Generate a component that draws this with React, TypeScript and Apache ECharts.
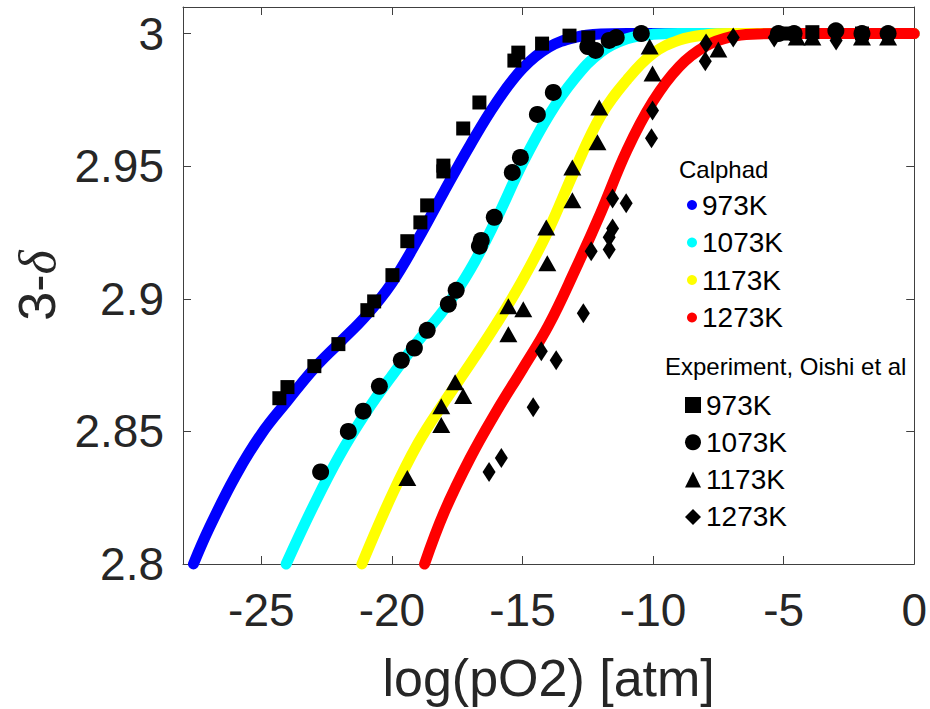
import React, { useEffect, useRef } from "react";
import * as echarts from "echarts";

// Calphad model curves, 3-δ versus log(pO2)
const calphad973: [number, number][] = [
  [-27.6, 2.8], [-27.0, 2.8135], [-26.0, 2.833], [-25.0, 2.849], [-24.0, 2.8615],
  [-23.0, 2.8735], [-22.0, 2.8835], [-21.0, 2.8935], [-20.0, 2.906], [-19.0, 2.9225],
  [-18.0, 2.9405], [-17.0, 2.958], [-16.0, 2.974], [-15.0, 2.9868], [-14.0, 2.9948],
  [-13.0, 2.9985], [-12.0, 2.9998], [-11.0, 3.0], [-6.0, 3.0], [0, 3.0],
];
const calphad1073: [number, number][] = [
  [-24.05, 2.8], [-23.0, 2.822], [-22.0, 2.841], [-21.0, 2.857], [-20.0, 2.871],
  [-19.0, 2.884], [-18.0, 2.896], [-17.0, 2.911], [-16.0, 2.93], [-15.0, 2.951],
  [-14.0, 2.969], [-13.0, 2.983], [-12.0, 2.993], [-11.0, 2.998], [-10.0, 2.9997],
  [-9.0, 3.0], [-5.0, 3.0], [0, 3.0],
];
const calphad1173: [number, number][] = [
  [-21.15, 2.8], [-20.0, 2.826], [-19.0, 2.8455], [-18.0, 2.861], [-17.0, 2.8755],
  [-16.0, 2.8905], [-15.0, 2.907], [-14.0, 2.926], [-13.0, 2.9485], [-12.0, 2.969],
  [-11.0, 2.9825], [-10.0, 2.9925], [-9.0, 2.9975], [-8.0, 2.9995], [-7.0, 3.0],
  [-4.0, 3.0], [0, 3.0],
];
const calphad1273: [number, number][] = [
  [-18.75, 2.8], [-18.0, 2.8195], [-17.0, 2.84], [-16.0, 2.8575], [-15.0, 2.8735],
  [-14.0, 2.89], [-13.0, 2.9105], [-12.0, 2.9325], [-11.0, 2.956], [-10.0, 2.9745],
  [-9.0, 2.9875], [-8.0, 2.9952], [-7.0, 2.9988], [-6.0, 2.9998], [-5.0, 3.0],
  [-2.0, 3.0], [0, 3.0],
];

// Experimental points, Oishi et al
const oishi973: [number, number][] = [
  [-24.31, 2.8625], [-24.0, 2.8667], [-22.97, 2.8746], [-22.05, 2.8829], [-20.94, 2.8957],
  [-20.68, 2.899], [-19.98, 2.9089], [-19.41, 2.9217], [-18.91, 2.9288], [-18.65, 2.9352],
  [-18.03, 2.948], [-18.03, 2.9502], [-17.27, 2.9642], [-16.65, 2.974], [-15.31, 2.9898],
  [-15.16, 2.9928], [-14.25, 2.9962], [-13.2, 2.9992], [-12.48, 2.9985],
  [-5.0, 3.0], [-3.9, 3.0005], [-2.0, 3.0],
];
const oishi1073: [number, number][] = [
  [-22.73, 2.8347], [-21.67, 2.85], [-21.1, 2.8576], [-20.48, 2.867], [-19.64, 2.8768],
  [-19.14, 2.8814], [-18.65, 2.8881], [-17.84, 2.8979], [-17.54, 2.9032], [-16.65, 2.9198],
  [-16.58, 2.922], [-16.08, 2.9307], [-15.39, 2.9476], [-15.08, 2.9533], [-14.43, 2.9695],
  [-13.82, 2.9778], [-12.5, 2.9951], [-12.2, 2.9936], [-11.68, 2.9974], [-11.41, 2.9985],
  [-10.45, 3.0], [-5.2, 3.0], [-4.6, 3.0], [-3.0, 3.001], [-2.0, 3.0], [-1.0, 3.0],
];
const oishi1173: [number, number][] = [
  [-19.41, 2.8324], [-18.11, 2.8524], [-18.11, 2.8595], [-17.58, 2.8685], [-17.27, 2.8633],
  [-15.54, 2.8866], [-15.54, 2.8972], [-14.97, 2.896], [-14.09, 2.9269], [-14.05, 2.9134],
  [-13.09, 2.9371], [-13.09, 2.9495], [-12.13, 2.959], [-12.06, 2.9721], [-10.02, 2.9849],
  [-10.13, 2.9951], [-7.5, 2.994], [-4.5, 2.9985], [-3.9, 2.9985], [-2.0, 2.9985], [-1.0, 2.9985],
];
const oishi1273: [number, number][] = [
  [-16.28, 2.8347], [-15.81, 2.84], [-14.59, 2.8591], [-14.28, 2.8802], [-13.71, 2.8768],
  [-12.67, 2.8945], [-12.37, 2.9179], [-11.68, 2.9186], [-11.68, 2.9232], [-11.55, 2.9265],
  [-11.55, 2.9378], [-11.03, 2.936], [-10.06, 2.9605], [-10.02, 2.971], [-8.0, 2.9895],
  [-7.97, 2.9962], [-6.93, 2.9985], [-5.36, 2.9985], [-2.99, 2.9974],
];

const temperatures = ["973K", "1073K", "1173K", "1273K"];
const xTicks = [-25, -20, -15, -10, -5, 0];
const yTicks = [2.8, 2.85, 2.9, 2.95, 3];

const calphadData = [calphad973, calphad1073, calphad1173, calphad1273];
const oishiData = [oishi973, oishi1073, oishi1173, oishi1273];

const lineColors = ["#0000ff", "#00ffff", "#ffff00", "#ff0000"];
const markerShapes = ["rect", "circle", "triangle", "diamond"];
const markerSizes: (number | number[])[] = [14, 17, [18, 16], [13, 20]];

const FONT = "'Liberation Sans', Arial, Helvetica, sans-serif";
const AXIS_COLOR = "#404040";
const X_MIN = -28;
const X_MAX = 0;
const Y_MIN = 2.8;
const Y_MAX = 3.01;

export default function App() {
  const ref = useRef<HTMLDivElement>(null);

  useEffect(() => {
    document.body.style.margin = "0";
    if (!ref.current) return;
    const chart = echarts.init(ref.current, null, { renderer: "svg" });

    const calphadNames = temperatures.map((t) => `Calphad ${t}`);
    const expNames = temperatures.map((t) => `Experiment ${t}`);

    const lineSeries = calphadData.map((d, i) => ({
      name: calphadNames[i],
      type: "line",
      data: d,
      showSymbol: false,
      smooth: 0.4,
      clip: false,
      color: lineColors[i],
      lineStyle: { width: 11, color: lineColors[i], cap: "round", join: "round" },
      z: 2,
    }));

    const scatterSeries = oishiData.map((d, i) => ({
      name: expNames[i],
      type: "scatter",
      data: d,
      symbol: markerShapes[i],
      symbolSize: markerSizes[i],
      color: "#000000",
      itemStyle: { color: "#000000", opacity: 1 },
      clip: false,
      z: 3,
    }));

    const tickCommon = {
      show: true,
      inside: true,
      length: 8,
      lineStyle: { color: AXIS_COLOR, width: 1 },
    };

    chart.setOption({
      animation: false,
      backgroundColor: "#ffffff",
      grid: { left: 183, right: 15, top: 7, bottom: 145, containLabel: false },
      xAxis: [
        {
          type: "value",
          min: X_MIN,
          max: X_MAX,
          position: "bottom",
          name: "log(pO2) [atm]",
          nameLocation: "middle",
          nameGap: 88,
          nameTextStyle: { fontFamily: FONT, fontSize: 52, color: "#262626" },
          axisLine: { show: true, onZero: false, lineStyle: { color: AXIS_COLOR, width: 1 } },
          axisTick: { ...tickCommon, customValues: xTicks },
          axisLabel: {
            customValues: xTicks,
            margin: 23,
            fontFamily: FONT,
            fontSize: 46,
            color: "#262626",
            formatter: (v: number) => String(v),
          },
          splitLine: { show: false },
        },
        {
          type: "value",
          min: X_MIN,
          max: X_MAX,
          position: "top",
          axisLine: { show: true, onZero: false, lineStyle: { color: AXIS_COLOR, width: 1 } },
          axisTick: { ...tickCommon, customValues: xTicks },
          axisLabel: { show: false },
          splitLine: { show: false },
        },
      ],
      yAxis: [
        {
          type: "value",
          min: Y_MIN,
          max: Y_MAX,
          position: "left",
          name: "3-{d|δ}",
          nameLocation: "middle",
          nameRotate: 90,
          nameGap: 120,
          nameTextStyle: {
            fontFamily: FONT,
            fontSize: 52,
            color: "#262626",
            rich: {
              d: {
                fontFamily: "'Liberation Serif', 'DejaVu Serif', serif",
                fontStyle: "italic",
                fontSize: 52,
                color: "#262626",
              },
            },
          },
          axisLine: { show: true, onZero: false, lineStyle: { color: AXIS_COLOR, width: 1 } },
          axisTick: { ...tickCommon, customValues: yTicks },
          axisLabel: {
            customValues: yTicks,
            margin: 19,
            fontFamily: FONT,
            fontSize: 46,
            color: "#262626",
            formatter: (v: number) => String(+Number(v).toFixed(2)),
          },
          splitLine: { show: false },
        },
        {
          type: "value",
          min: Y_MIN,
          max: Y_MAX,
          position: "right",
          axisLine: { show: true, onZero: false, lineStyle: { color: AXIS_COLOR, width: 1 } },
          axisTick: { ...tickCommon, customValues: yTicks },
          axisLabel: { show: false },
          splitLine: { show: false },
        },
      ],
      legend: [
        {
          data: calphadNames,
          orient: "vertical",
          left: 687,
          top: 191,
          padding: 0,
          itemGap: 9.5,
          itemWidth: 10,
          itemHeight: 10,
          icon: "circle",
          selectedMode: false,
          formatter: (name: string) => name.replace(/^\S+\s/, ""),
          textStyle: { fontFamily: FONT, fontSize: 28, color: "#000000" },
        },
        {
          data: expNames.map((n, i) => ({ name: n, icon: markerShapes[i] })),
          orient: "vertical",
          left: 685,
          top: 391,
          padding: 0,
          itemGap: 9.3,
          itemWidth: 16,
          itemHeight: 16,
          selectedMode: false,
          formatter: (name: string) => name.replace(/^\S+\s/, ""),
          textStyle: { fontFamily: FONT, fontSize: 28, color: "#000000" },
        },
      ],
      graphic: [
        {
          type: "text",
          x: 679,
          y: 169,
          style: {
            text: "Calphad",
            fontFamily: FONT,
            fontSize: 24,
            fill: "#000000",
            verticalAlign: "middle",
            align: "left",
          },
          z: 10,
        },
        {
          type: "text",
          x: 665,
          y: 366,
          style: {
            text: "Experiment, Oishi et al",
            fontFamily: FONT,
            fontSize: 24,
            fill: "#000000",
            verticalAlign: "middle",
            align: "left",
          },
          z: 10,
        },
      ],
      series: [...lineSeries, ...scatterSeries],
    });

    return () => chart.dispose();
  }, []);

  return (
    <div
      ref={ref}
      style={{ position: "fixed", left: 0, top: 0, width: 930, height: 709, background: "#ffffff" }}
    />
  );
}
